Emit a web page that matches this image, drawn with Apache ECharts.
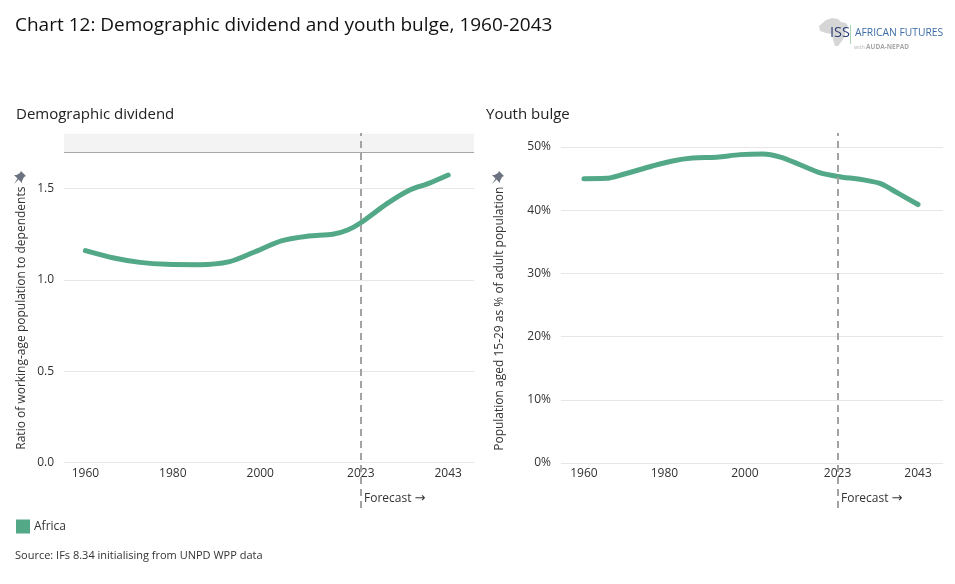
<!DOCTYPE html>
<html><head><meta charset="utf-8">
<style>html,body{margin:0;padding:0;background:#fff}#c{width:955px;height:584px}</style>
<script src="https://cdn.jsdelivr.net/npm/echarts@6/dist/echarts.min.js"></script>
</head><body><div id="c"></div>
<script>
const seriesName = 'Africa';
const dividendYears = [1960,1966.5,1972.5,1978.6,1986,1993,1998.4,2005,2011,2016.6,2020,2023,2029,2034,2038.7,2043];
const dividendValues = [1.16,1.12,1.096,1.085,1.083,1.10,1.15,1.215,1.24,1.25,1.273,1.313,1.418,1.49,1.53,1.574];
const bulgeYears = [1960,1965.5,1969.6,1977,1982,1987,1993,1998.8,2004.5,2008.8,2013.7,2018.7,2023,2029.5,2033.7,2038,2043];
const bulgeValues = [45,45.05,45.65,47,47.8,48.25,48.4,48.8,48.9,48.4,47.2,45.9,45.35,44.8,44.2,42.7,40.9];
const xTicks = [1960,1980,2000,2023,2043];
const forecastYear = 2023;
const thresholdValue = 1.7;
const dividendTop = 1.8;
const leftXRange = [1955.1,2048.9];
const rightXRange = [1954.3,2049.2];
const FONT = '"Open Sans"';
const INK = '#333';
const GREEN = '#53a888';

function pinAt(x,y){
  const pts = [[8,0],[13,5],[11,6],[9,10],[9,12],[5.5,8.5],[1,13],[4.5,7.5],[1,4],[3.5,4],[7,2]];
  return {type:'polygon',shape:{points:pts.map(p=>[p[0]+x,p[1]+y])},style:{fill:'#6b7280'}};
}
function forecastText(x){
  return {type:'text',left:x,top:492,style:{text:'{t|Forecast }{a|\u2192}',
    rich:{t:{fontFamily:FONT,fontSize:12,fill:INK},a:{fontFamily:'DejaVu Sans',fontSize:13,fill:INK}}}};
}
function zip(a,b){return a.map((v,i)=>[v,b[i]]);}
function xAxis(idx,range){return {
  gridIndex:idx,type:'value',min:range[0],max:range[1],
  axisLine:{show:false},axisTick:{show:false},splitLine:{show:false},
  axisLabel:{customValues:xTicks,color:INK,fontFamily:FONT,fontSize:12,margin:5,formatter:v=>String(v)}
};}
function yAxis(idx,max,interval,fmt,name,pad,gap){return {
  gridIndex:idx,type:'value',min:0,max,interval,
  axisLine:{show:false},axisTick:{show:false},
  splitLine:{show:true,showMaxLine:false,lineStyle:{color:'#e6e6e6',width:1}},
  axisLabel:{showMaxLabel:false,color:INK,fontFamily:FONT,fontSize:12,margin:10,formatter:fmt},
  name,nameLocation:'middle',nameGap:gap,nameRotate:90,
  nameTextStyle:{color:INK,fontFamily:FONT,fontSize:12,padding:pad}
};}
function lineSeries(idx,data,extra){return Object.assign({
  name:seriesName,type:'line',xAxisIndex:idx,yAxisIndex:idx,data,smooth:0.3,
  showSymbol:false,symbol:'none',
  lineStyle:{color:GREEN,width:5,cap:'round',join:'round'},itemStyle:{color:GREEN},
  z:3
},extra);}
const dash = {color:'#a3a3a3',width:2,type:[7,5]};

const leftSeries = lineSeries(0,zip(dividendYears,dividendValues),{
  markLine:{
    silent:true,symbol:'none',animation:false,label:{show:false},
    data:[
      [{xAxis:forecastYear,yAxis:0,y:508,lineStyle:dash},{xAxis:forecastYear,yAxis:dividendTop,y:133}],
      [{xAxis:leftXRange[0],yAxis:thresholdValue,lineStyle:{color:'#a6a6a6',width:1,type:'solid'}},{xAxis:leftXRange[1],yAxis:thresholdValue}]
    ]
  },
  markArea:{silent:true,animation:false,itemStyle:{color:'#f3f3f3'},
    data:[[{xAxis:leftXRange[0],yAxis:thresholdValue},{xAxis:leftXRange[1],yAxis:dividendTop}]]}
});
const rightSeries = lineSeries(1,zip(bulgeYears,bulgeValues),{
  markLine:{silent:true,symbol:'none',animation:false,label:{show:false},
    data:[[{xAxis:forecastYear,yAxis:0,y:508,lineStyle:dash},{xAxis:forecastYear,yAxis:52,y:133}]]}
});

const option = {
  animation:false,backgroundColor:'#fff',
  textStyle:{fontFamily:FONT},
  title:[
    {text:'Chart 12: Demographic dividend and youth bulge, 1960-2043',left:15,top:16,padding:0,textStyle:{fontFamily:FONT,fontSize:19,fontWeight:400,color:'#111'}},
    {text:'Demographic dividend',left:16,top:107,padding:0,textStyle:{fontFamily:FONT,fontSize:15,fontWeight:400,color:'#222'}},
    {text:'Youth bulge',left:486,top:107,padding:0,textStyle:{fontFamily:FONT,fontSize:15,fontWeight:400,color:'#222'}}
  ],
  legend:{left:16,top:516,padding:0,icon:'rect',itemWidth:14,itemHeight:14,itemGap:5,selectedMode:false,
    textStyle:{fontFamily:FONT,fontSize:12,color:INK,lineHeight:18,padding:[3,0,0,-1]},data:[seriesName]},
  grid:[
    {left:64,width:410,top:133.8,height:328.7},
    {left:561,width:382,top:134.4,height:328.6}
  ],
  xAxis:[xAxis(0,leftXRange),xAxis(1,rightXRange)],
  yAxis:[
    yAxis(0,dividendTop,0.5,v=>v.toFixed(1),'Ratio of working-age population to dependents',[0,40,0,0],36),
    yAxis(1,52,10,v=>v+'%','Population aged 15-29 as % of adult population',[0,40,0,0],55)
  ],
  series:[leftSeries,rightSeries],
  graphic:[
    forecastText(364),forecastText(841),
    {type:'text',left:15,top:550,style:{text:'Source: IFs 8.34 initialising from UNPD WPP data',font:'11px '+FONT,fill:INK}},
    pinAt(13,171),pinAt(491,171),
    {type:'polygon',shape:{points:[[826,20],[832,18],[838,19],[841,22],[846,23],[848,26],[845,31],[845,36],[842,41],[838,46],[835,46],[833,40],[832,34],[826,33],[820,31],[819,26]]},style:{fill:'#d6d6d6'}},
    {type:'text',left:830,top:25,style:{text:'ISS',font:'14.5px '+FONT,fill:'#2e3f73'}},
    {type:'rect',shape:{x:850,y:25,width:1,height:19},style:{fill:'#a9d6b5'}},
    {type:'text',left:855,top:28,style:{text:'AFRICAN FUTURES',font:'10.3px '+FONT,fill:'#3d6da8'}},
    {type:'text',left:854,top:44,style:{text:'with',font:'5.5px '+FONT,fill:'#b5b5b5'}},
    {type:'text',left:866,top:44,style:{text:'AUDA-NEPAD',font:'bold 6.5px '+FONT,fill:'#a8a8a8'}}
  ]
};
const chart = echarts.init(document.getElementById('c'),null,{renderer:'canvas'});
chart.setOption(option);
</script></body></html>
